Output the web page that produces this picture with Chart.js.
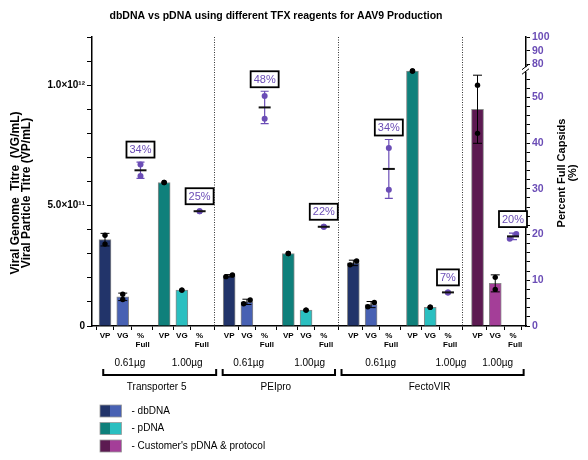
<!DOCTYPE html>
<html>
<head>
<meta charset="utf-8">
<script src="https://cdn.jsdelivr.net/npm/chart.js@4.4.0/dist/chart.umd.min.js"></script>
<style>
    html, body { margin: 0; padding: 0; background: #fff; }
</style>
</head>
<body>
<canvas id="mycanvas" width="588" height="460"></canvas>
<script>
// ---- data ----
var reagentNames = ['Transporter 5', 'PEIpro', 'FectoVIR'];
var doseLabels = ['0.61µg', '1.00µg', '0.61µg', '1.00µg', '0.61µg', '1.00µg', '1.00µg'];
var dnaKinds = ['dbDNA', 'pDNA', 'dbDNA', 'pDNA', 'dbDNA', 'pDNA', 'customer'];
var measureNames = ['VP', 'VG', ['%', '  Full']];

// two replicates per condition
var vpTitre = [[3.40e11, 3.77e11], [5.96e11, 5.96e11], [2.05e11, 2.12e11], [3.01e11, 3.01e11],
    [2.54e11, 2.70e11], [1.059e12, 1.059e12], [0.80e12, 1.00e12]];
var vgTitre = [[1.10e11, 1.32e11], [1.49e11, 1.49e11], [0.925e11, 1.08e11], [0.66e11, 0.66e11],
    [0.80e11, 0.98e11], [0.78e11, 0.78e11], [1.52e11, 2.02e11]];
var pctFull = [[32.8, 35.3], [25.1, 25.1], [45.3, 50.3], [21.7, 21.7],
    [29.8, 38.9], [7.35, 7.35], [19.1, 20.1]];

var titreTicks = [0, 5e11, 1e12];
var titreTickLabels = ['0', '5.0×10¹¹', '1.0×10¹²'];
var pctTicks = [0, 10, 20, 30, 40, 50, 80, 90, 100];
var leftTitle = ['Viral Genome  Titre  (VG/mL)', 'Viral Particle Titre (VP/mL)'];
var rightTitle = ['Percent Full Capsids', '(%)'];
var legendNames = ['- dbDNA', '- pDNA', "- Customer's pDNA & protocol"];

// ---- styles / layout ----
var kindColors = {
    dbDNA: ['#22346a', '#4861b3'],
    pDNA: ['#0f807b', '#2abfc0'],
    customer: ['#5c1a51', '#a43e98']
};
var purple = '#6b4db6';
var FONT = '"Liberation Sans", Arial, Helvetica, sans-serif';
Chart.defaults.font.family = FONT;

// x axis is in "slots": 21 per reagent block, 10 per dose, 3 per measure
function subX(i) { return Math.floor(i / 2) * 21 + (i % 2) * 10; }
function measX(i, m) { return subX(i) + m * 3; }
var doseShift = [1.2, 0.9, 0.3, 0.6, 1.6, 3.5, 0.4];
var bracketSpans = [[-0.3, 18.8], [19.9, 38.9], [40, 70.8]];

// right axis has a break between 50 and 80
function pctAxis(p) { return p <= 56 ? p : 57.2 + (p - 80) * 0.3; }

function mean(a) { return a.reduce(function (s, v) { return s + v; }, 0) / a.length; }
function sd(a) {
    var m = mean(a);
    return Math.sqrt(a.reduce(function (s, v) { return s + (v - m) * (v - m); }, 0) / (a.length - 1));
}
// nudge overlapping replicate dots sideways, lower value to the left
function nudge(reps, tol) {
    if (reps[0] !== reps[1] && Math.abs(reps[0] - reps[1]) < tol) return [-0.55, 0.55];
    return [0, 0];
}

var barData = [], barColors = [], barErr = [], titrePts = [];
var pctPts = [], pctMeans = [], pctErr = [];
for (var i = 0; i < doseLabels.length; i++) {
    [vpTitre[i], vgTitre[i]].forEach(function (reps, m) {
        var x = measX(i, m);
        barData.push({ x: x, y: mean(reps) });
        barColors.push(kindColors[dnaKinds[i]][m]);
        barErr.push({ x: x, mean: mean(reps), sd: sd(reps) });
        var off = nudge(reps, 1.2e12 * 0.017);
        reps.forEach(function (v, k) { titrePts.push({ x: x + off[k], y: v }); });
    });
    var px = measX(i, 2);
    var off2 = nudge(pctFull[i], pctAxis(100) * 0.017);
    pctFull[i].forEach(function (v, k) { pctPts.push({ x: px + off2[k], y: pctAxis(v) }); });
    pctMeans.push({ x: px, y: pctAxis(mean(pctFull[i])) });
    pctErr.push({ x: px, mean: mean(pctFull[i]), sd: sd(pctFull[i]), top: Math.max.apply(null, pctFull[i]) });
}

var xTickValues = [], xTickLabels = [];
for (var i = 0; i < doseLabels.length; i++) {
    for (var m = 0; m < 3; m++) {
        xTickValues.push(measX(i, m));
        xTickLabels.push(measureNames[m]);
    }
}
var pctTickValues = [];
for (var v = 0; v <= 54; v += 2) pctTickValues.push(v);
pctTicks.forEach(function (p) { if (p > 56) pctTickValues.push(pctAxis(p)); });

function errBar(ctx, x, yLo, yHi, cap) {
    ctx.beginPath();
    ctx.moveTo(x, yLo); ctx.lineTo(x, yHi);
    ctx.moveTo(x - cap, yLo); ctx.lineTo(x + cap, yLo);
    ctx.moveTo(x - cap, yHi); ctx.lineTo(x + cap, yHi);
    ctx.stroke();
}

function rotatedLines(ctx, lines, x, y, gap) {
    ctx.save();
    ctx.translate(x, y);
    ctx.rotate(-Math.PI / 2);
    lines.forEach(function (t, k) { ctx.fillText(t, 0, k * gap); });
    ctx.restore();
}

var decorations = {
    id: 'decorations',
    beforeDatasetsDraw: function (chart) {
        var ctx = chart.ctx, xs = chart.scales.x, a = chart.chartArea;
        ctx.save();
        ctx.strokeStyle = '#333';
        ctx.lineWidth = 1;
        ctx.setLineDash([1, 1.5]);
        for (var g = 1; g <= 3; g++) {
            var x = Math.round(xs.getPixelForValue(g * 21 - 2.55)) + 0.5;
            ctx.beginPath();
            ctx.moveTo(x, a.top);
            ctx.lineTo(x, a.bottom);
            ctx.stroke();
        }
        ctx.restore();
    },
    afterDatasetDraw: function (chart, args) {
        if (args.index !== 0) return;
        var ctx = chart.ctx, xs = chart.scales.x, ys = chart.scales.y;
        ctx.save();
        ctx.strokeStyle = '#000';
        ctx.lineWidth = 1;
        barErr.forEach(function (e) {
            if (e.sd === 0) return;
            errBar(ctx, xs.getPixelForValue(e.x), ys.getPixelForValue(e.mean - e.sd),
                ys.getPixelForValue(e.mean + e.sd), 4.5);
        });
        ctx.restore();
    },
    beforeDatasetDraw: function (chart, args) {
        if (args.index !== 2) return;
        var ctx = chart.ctx, xs = chart.scales.x, ys = chart.scales.y2;
        ctx.save();
        ctx.strokeStyle = purple;
        ctx.lineWidth = 1.2;
        pctErr.forEach(function (e) {
            if (e.sd === 0) return;
            errBar(ctx, xs.getPixelForValue(e.x), ys.getPixelForValue(pctAxis(e.mean - e.sd)),
                ys.getPixelForValue(pctAxis(e.mean + e.sd)), 4);
        });
        ctx.restore();
    },
    afterDatasetsDraw: function (chart) {
        // percent call-out boxes
        var ctx = chart.ctx, xs = chart.scales.x, ys = chart.scales.y2;
        ctx.save();
        ctx.font = '11px ' + FONT;
        ctx.textAlign = 'center';
        ctx.textBaseline = 'middle';
        pctErr.forEach(function (e) {
            var txt = Math.round(e.mean) + '%';
            var x = xs.getPixelForValue(e.x);
            var yTop = Math.min(ys.getPixelForValue(pctAxis(e.top)) - 3,
                ys.getPixelForValue(pctAxis(e.mean + e.sd)));
            var w = ctx.measureText(txt).width + 6, h = 16;
            var yb = yTop - 4;
            ctx.fillStyle = '#fff';
            ctx.fillRect(x - w / 2, yb - h, w, h);
            ctx.strokeStyle = '#000';
            ctx.lineWidth = 1.8;
            ctx.strokeRect(x - w / 2, yb - h, w, h);
            ctx.fillStyle = purple;
            ctx.fillText(txt, x, yb - h / 2 + 0.5);
        });
        ctx.restore();
    },
    afterDraw: function (chart) {
        var ctx = chart.ctx, xs = chart.scales.x, y2 = chart.scales.y2, a = chart.chartArea;
        var b = a.bottom;
        ctx.save();

        // title
        ctx.fillStyle = '#000';
        ctx.font = 'bold 10.5px ' + FONT;
        ctx.textAlign = 'center';
        ctx.textBaseline = 'middle';
        ctx.fillText('dbDNA vs pDNA using different TFX reagents for AAV9 Production', 276, 16);

        // axis break on the right axis
        var ax = y2.left;
        var g1 = y2.getPixelForValue(56.6), g2 = y2.getPixelForValue(55.6);
        ctx.fillStyle = '#fff';
        ctx.fillRect(ax - 2, g1, 4, g2 - g1);
        ctx.strokeStyle = '#000';
        ctx.lineWidth = 1;
        ctx.beginPath();
        ctx.moveTo(ax - 4, g1 + 2.5); ctx.lineTo(ax + 3, g1 - 3);
        ctx.moveTo(ax - 4, g2 + 2.5); ctx.lineTo(ax + 3, g2 - 3);
        ctx.stroke();

        // axis titles
        ctx.fillStyle = '#000';
        ctx.font = 'bold 12px ' + FONT;
        rotatedLines(ctx, leftTitle, 16, 193, 11);
        ctx.font = 'bold 11px ' + FONT;
        rotatedLines(ctx, rightTitle, a.right + 35.5, 173, 11);

        // dose labels
        ctx.font = '10px ' + FONT;
        doseLabels.forEach(function (d, i) {
            ctx.fillText(d, xs.getPixelForValue(measX(i, 1) + doseShift[i]), b + 37);
        });

        // reagent brackets
        ctx.lineWidth = 2;
        ctx.strokeStyle = '#000';
        bracketSpans.forEach(function (s, r) {
            var x0 = xs.getPixelForValue(s[0]), x1 = xs.getPixelForValue(s[1]);
            ctx.beginPath();
            ctx.moveTo(x0, b + 43); ctx.lineTo(x0, b + 49);
            ctx.lineTo(x1, b + 49); ctx.lineTo(x1, b + 43);
            ctx.stroke();
            ctx.fillText(reagentNames[r], (x0 + x1) / 2 - 3, b + 61);
        });

        // legend
        var kinds = ['dbDNA', 'pDNA', 'customer'];
        ctx.textAlign = 'left';
        kinds.forEach(function (k, j) {
            var yc = b + 85 + j * 17.5;
            ctx.fillStyle = kindColors[k][0];
            ctx.fillRect(100, yc - 6, 10, 12);
            ctx.fillStyle = kindColors[k][1];
            ctx.fillRect(110, yc - 6, 11.5, 12);
            ctx.strokeStyle = '#999';
            ctx.lineWidth = 0.8;
            ctx.strokeRect(100, yc - 6, 21.5, 12);
            ctx.fillStyle = '#000';
            ctx.fillText(legendNames[j], 131.5, yc);
        });
        ctx.restore();
    }
};

var ctx = document.getElementById('mycanvas');
var chart = new Chart(ctx, {
    type: 'bar',
    data: {
        datasets: [{
            label: 'titre',
            data: barData,
            yAxisID: 'y',
            backgroundColor: barColors,
            borderColor: '#8a8a8a',
            borderWidth: 1,
            barThickness: 12,
            order: 3
        }, {
            type: 'scatter',
            label: 'titre replicates',
            data: titrePts,
            yAxisID: 'y',
            pointRadius: 2.7,
            pointBackgroundColor: '#000',
            pointBorderWidth: 0,
            order: 2
        }, {
            type: 'scatter',
            label: '% full replicates',
            data: pctPts,
            yAxisID: 'y2',
            pointRadius: 3,
            pointBackgroundColor: purple,
            pointBorderWidth: 0,
            order: 1
        }, {
            type: 'scatter',
            label: '% full mean',
            data: pctMeans,
            yAxisID: 'y2',
            pointStyle: 'line',
            pointRadius: 6,
            pointBorderWidth: 2,
            pointBorderColor: '#111',
            order: 0
        }]
    },
    options: {
        responsive: false,
        animation: false,
        devicePixelRatio: 1,
        layout: { padding: { top: 37, bottom: 102, left: 0, right: 0 } },
        plugins: {
            legend: { display: false },
            tooltip: { enabled: false },
            title: { display: false }
        },
        scales: {
            x: {
                type: 'linear',
                min: -2.2,
                max: 71.2,
                offset: false,
                afterBuildTicks: function (s) {
                    s.ticks = xTickValues.map(function (v) { return { value: v }; });
                },
                ticks: {
                    autoSkip: false,
                    maxRotation: 0,
                    minRotation: 0,
                    padding: 1,
                    color: '#000',
                    font: { size: 8, weight: 'bold', lineHeight: 1.15 },
                    callback: function (v, idx) { return xTickLabels[idx]; }
                },
                grid: { drawOnChartArea: false, tickLength: 4, color: '#000' },
                border: { color: '#000', width: 1.5 },
                afterFit: function (s) { s.height = 32; }
            },
            y: {
                position: 'left',
                min: 0,
                max: 1.2e12,
                afterBuildTicks: function (s) {
                    var t = [];
                    for (var k = 0; k <= 12; k++) t.push({ value: k * 1e11 });
                    s.ticks = t;
                },
                ticks: {
                    autoSkip: false,
                    padding: 2,
                    color: '#000',
                    font: { size: 10, weight: 'bold' },
                    callback: function (v) {
                        for (var j = 0; j < titreTicks.length; j++) {
                            if (Math.abs(v - titreTicks[j]) < 1e6) return titreTickLabels[j];
                        }
                        return '';
                    }
                },
                grid: { drawOnChartArea: false, tickLength: 5, color: '#000' },
                border: { color: '#000', width: 1.5 },
                afterFit: function (s) { s.width = 92; }
            },
            y2: {
                position: 'right',
                min: 0,
                max: pctAxis(100),
                afterBuildTicks: function (s) {
                    s.ticks = pctTickValues.map(function (v) { return { value: v }; });
                },
                ticks: {
                    autoSkip: false,
                    padding: 2,
                    color: purple,
                    font: { size: 10.5, weight: 'bold' },
                    callback: function (v) {
                        for (var j = 0; j < pctTicks.length; j++) {
                            if (Math.abs(v - pctAxis(pctTicks[j])) < 1e-6) return String(pctTicks[j]);
                        }
                        return '';
                    }
                },
                grid: { drawOnChartArea: false, tickLength: 4, color: '#000' },
                border: { color: '#000', width: 1.5 },
                afterFit: function (s) { s.width = 62; }
            }
        }
    },
    plugins: [decorations]
});
</script>
</body>
</html>
